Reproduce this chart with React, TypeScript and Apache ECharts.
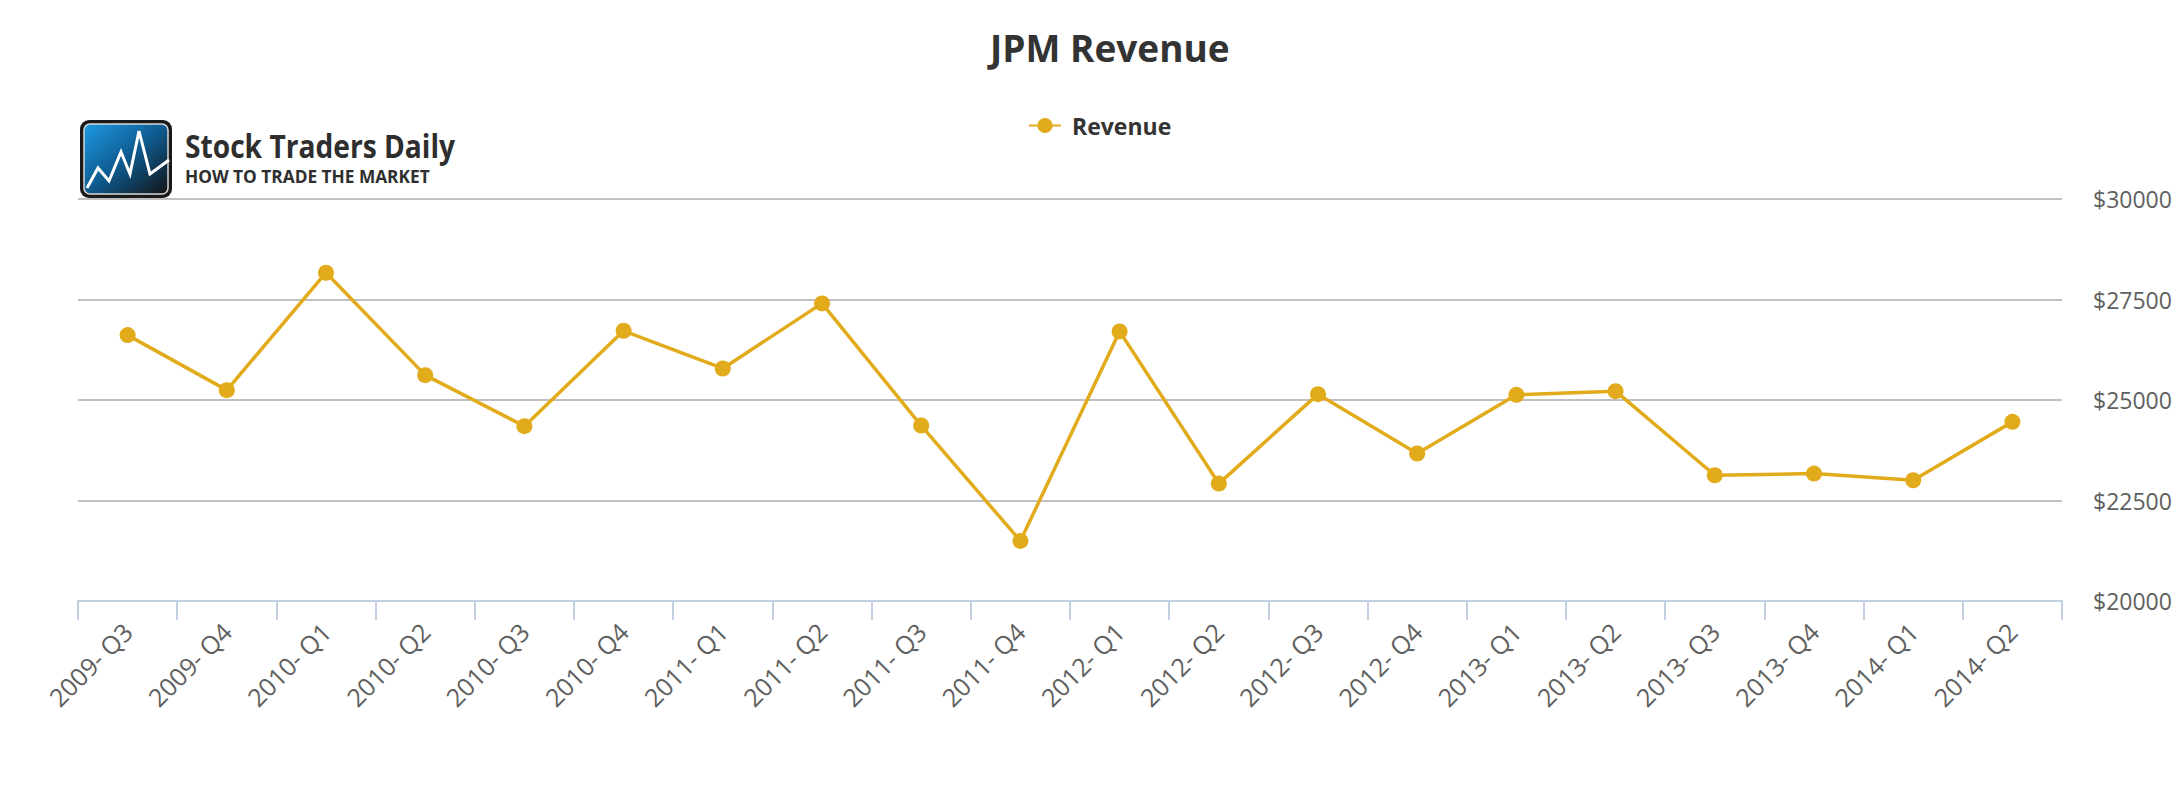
import React, { useEffect, useRef } from 'react';
import * as echarts from 'echarts';

const categories = [
  '2009- Q3', '2009- Q4', '2010- Q1', '2010- Q2', '2010- Q3', '2010- Q4',
  '2011- Q1', '2011- Q2', '2011- Q3', '2011- Q4', '2012- Q1', '2012- Q2',
  '2012- Q3', '2012- Q4', '2013- Q1', '2013- Q2', '2013- Q3', '2013- Q4',
  '2014- Q1', '2014- Q2',
];

const revenue = [
  26614, 25245, 28166, 25618, 24349, 26722,
  25784, 27403, 24365, 21494, 26706, 22921,
  25145, 23668, 25129, 25220, 23129, 23170,
  23004, 24456,
];

const yMin = 20000;
const yMax = 30000;
const yStep = 2500;

const seriesName = 'Revenue';
const titleText = 'JPM Revenue';
const logoTitle = 'Stock Traders Daily';
const logoSub = 'HOW TO TRADE THE MARKET';

const zigzag = [
  [87, 188], [98, 168], [109, 181], [121, 152], [130, 174], [139, 131], [150, 174], [169, 160],
];

const FONT = '"Open Sans", "Noto Sans", sans-serif';
const GOLD = '#E1AB1B';

export default function App() {
  const ref = useRef<HTMLDivElement>(null);

  useEffect(() => {
    document.body.style.margin = '0';
    const chart = echarts.init(ref.current as HTMLDivElement, null, { renderer: 'svg' });
    chart.setOption({
      animation: false,
      backgroundColor: '#ffffff',
      title: {
        text: titleText,
        left: 990,
        top: 29,
        padding: 0,
        textStyle: { fontFamily: FONT, fontSize: 37, fontWeight: 'bold', color: '#333333' },
      },
      legend: {
        data: [seriesName],
        left: 1028,
        top: 114,
        padding: 0,
        itemWidth: 32,
        itemHeight: 19,
        textStyle: {
          fontFamily: FONT,
          fontSize: 23,
          fontWeight: 'bold',
          color: '#333333',
          padding: [0, 0, 0, 6],
        },
      },
      grid: { left: 78, top: 199, width: 1984, height: 402, containLabel: false },
      xAxis: {
        type: 'category',
        data: categories,
        boundaryGap: true,
        axisLine: { lineStyle: { color: '#C0D0E0', width: 2 } },
        axisTick: { show: true, length: 19, lineStyle: { color: '#C0D0E0', width: 2 } },
        axisLabel: {
          interval: 0,
          rotate: 45,
          margin: 26,
          fontFamily: FONT,
          fontSize: 25,
          color: '#606060',
        },
        splitLine: { show: false },
      },
      yAxis: {
        type: 'value',
        position: 'right',
        min: yMin,
        max: yMax,
        interval: yStep,
        axisLine: { show: false },
        axisTick: { show: false },
        axisLabel: {
          margin: 31,
          fontFamily: FONT,
          fontSize: 23,
          color: '#606060',
          formatter: (v: number) => '$' + v,
        },
        splitLine: { lineStyle: { color: '#C0C0C0', width: 2 } },
      },
      series: [
        {
          name: seriesName,
          type: 'line',
          data: revenue,
          symbol: 'circle',
          symbolSize: 16,
          itemStyle: { color: GOLD },
          lineStyle: { color: GOLD, width: 3.5 },
        },
      ],
      graphic: [
        {
          type: 'rect',
          shape: { x: 80, y: 120, width: 92, height: 78, r: 9 },
          style: { fill: '#1a1a1a' },
        },
        {
          type: 'rect',
          shape: { x: 84, y: 124, width: 84, height: 70, r: 6 },
          style: {
            fill: new echarts.graphic.LinearGradient(0, 0, 1, 1, [
              { offset: 0, color: '#1E9BE3' },
              { offset: 0.5, color: '#0E5A8F' },
              { offset: 1, color: '#141414' },
            ]),
            stroke: '#d8d8d8',
            lineWidth: 1.5,
          },
        },
        {
          type: 'polyline',
          shape: { points: zigzag },
          style: { stroke: '#ffffff', lineWidth: 3, fill: 'none' },
        },
        {
          type: 'text',
          x: 185,
          y: 146,
          scaleX: 0.88,
          style: {
            text: logoTitle,
            font: `bold 32px ${FONT}`,
            fill: '#2e2e2e',
            verticalAlign: 'middle',
            align: 'left',
          },
        },
        {
          type: 'text',
          x: 185,
          y: 176,
          scaleX: 0.96,
          style: {
            text: logoSub,
            font: `bold 18px ${FONT}`,
            fill: '#2e2e2e',
            verticalAlign: 'middle',
            align: 'left',
          },
        },
      ],
    });
    return () => chart.dispose();
  }, []);

  return <div ref={ref} style={{ width: 2182, height: 800 }} />;
}
